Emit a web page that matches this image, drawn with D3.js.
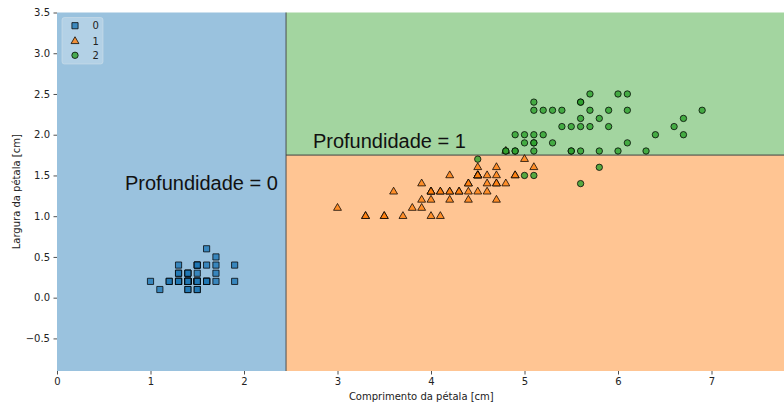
<!DOCTYPE html>
<html>
<head>
<meta charset="utf-8">
<script src="https://cdn.jsdelivr.net/npm/d3@7"></script>
<style>
  html, body { margin: 0; padding: 0; background: #fff; }
  svg { display: block; }
</style>
</head>
<body>
<svg id="chart" width="784" height="408"></svg>
<script>
// Iris: petal length / petal width by class
const petalLength0 = [1.4,1.4,1.3,1.5,1.4,1.7,1.4,1.5,1.4,1.5,1.5,1.6,1.4,1.1,1.2,1.5,1.3,1.4,1.7,1.5,1.7,1.5,1.0,1.7,1.9,1.6,1.6,1.5,1.4,1.6,1.6,1.5,1.5,1.4,1.5,1.2,1.3,1.4,1.3,1.5,1.3,1.3,1.3,1.6,1.9,1.4,1.6,1.4,1.5,1.4];
const petalWidth0  = [0.2,0.2,0.2,0.2,0.2,0.4,0.3,0.2,0.2,0.1,0.2,0.2,0.1,0.1,0.2,0.4,0.4,0.3,0.3,0.3,0.2,0.4,0.2,0.5,0.2,0.2,0.4,0.2,0.2,0.2,0.2,0.4,0.1,0.2,0.2,0.2,0.2,0.1,0.2,0.2,0.3,0.3,0.2,0.6,0.4,0.3,0.2,0.2,0.2,0.2];
const petalLength1 = [4.7,4.5,4.9,4.0,4.6,4.5,4.7,3.3,4.6,3.9,3.5,4.2,4.0,4.7,3.6,4.4,4.5,4.1,4.5,3.9,4.8,4.0,4.9,4.7,4.3,4.4,4.8,5.0,4.5,3.5,3.8,3.7,3.9,5.1,4.5,4.5,4.7,4.4,4.1,4.0,4.4,4.6,4.0,3.3,4.2,4.2,4.2,4.3,3.0,4.1];
const petalWidth1  = [1.4,1.5,1.5,1.3,1.5,1.3,1.6,1.0,1.3,1.4,1.0,1.5,1.0,1.4,1.3,1.4,1.5,1.0,1.5,1.1,1.8,1.3,1.5,1.2,1.3,1.4,1.4,1.7,1.5,1.0,1.1,1.0,1.2,1.6,1.5,1.6,1.5,1.3,1.3,1.3,1.2,1.4,1.2,1.0,1.3,1.2,1.3,1.3,1.1,1.3];
const petalLength2 = [6.0,5.1,5.9,5.6,5.8,6.6,4.5,6.3,5.8,6.1,5.1,5.3,5.5,5.0,5.1,5.3,5.5,6.7,6.9,5.0,5.7,4.9,6.7,4.9,5.7,6.0,4.8,4.9,5.6,5.8,6.1,6.4,5.6,5.1,5.6,6.1,5.6,5.5,4.8,5.4,5.6,5.1,5.1,5.9,5.7,5.2,5.0,5.2,5.4,5.1];
const petalWidth2  = [2.5,1.9,2.1,1.8,2.2,2.1,1.7,1.8,1.8,2.5,2.0,1.9,2.1,2.0,2.4,2.3,1.8,2.2,2.3,1.5,2.3,2.0,2.0,1.8,2.1,1.8,1.8,1.8,2.1,1.6,1.9,2.0,2.2,1.5,1.4,2.3,2.4,1.8,1.8,2.1,2.4,2.3,1.9,2.3,2.5,2.3,1.9,2.0,2.3,1.8];

const classLabels = ["0", "1", "2"];
const classColors = ["#1f77b4", "#ff7f0e", "#2ca02c"];
const regionColors = ["#9ac2de", "#ffc593", "#a3d5a0"];
const xDomain = [0, 7.9];
const yDomain = [-0.9, 3.5];
const xTicks = [0, 1, 2, 3, 4, 5, 6, 7];
const yTicks = [-0.5, 0.0, 0.5, 1.0, 1.5, 2.0, 2.5, 3.0, 3.5];
const splitLength = 2.45;   // depth 0 split
const splitWidth = 1.75;    // depth 1 split
const annotations = [
  { text: "Profundidade = 0", x: 1.545, y: 1.32 },
  { text: "Profundidade = 1", x: 3.555, y: 1.84 }
];
const xLabel = "Comprimento da pétala [cm]";
const yLabel = "Largura da pétala [cm]";

const svg = d3.select("#chart");
const mLeft = 57, mTop = 12.5, mBottom = 371;
const unitX = 93.5;
const x = d3.scaleLinear().domain(xDomain).range([mLeft, mLeft + (xDomain[1] - xDomain[0]) * unitX]);
const y = d3.scaleLinear().domain(yDomain).range([mBottom, mTop]);

// decision regions
const regions = [
  { x0: xDomain[0], x1: splitLength, y0: yDomain[0], y1: yDomain[1], c: 0 },
  { x0: splitLength, x1: xDomain[1], y0: yDomain[0], y1: splitWidth, c: 1 },
  { x0: splitLength, x1: xDomain[1], y0: splitWidth, y1: yDomain[1], c: 2 }
];
svg.append("g").selectAll("rect").data(regions).join("rect")
  .attr("x", d => x(d.x0)).attr("y", d => y(d.y1))
  .attr("width", d => x(d.x1) - x(d.x0)).attr("height", d => y(d.y0) - y(d.y1))
  .attr("fill", d => regionColors[d.c]);

// boundaries
const bnd = svg.append("g").attr("stroke", "#3a3a3a").attr("stroke-opacity", 0.55).attr("stroke-width", 1.6);
bnd.append("line").attr("x1", x(splitLength)).attr("x2", x(splitLength)).attr("y1", y(yDomain[0])).attr("y2", y(yDomain[1]));
bnd.append("line").attr("x1", x(splitLength)).attr("x2", x(xDomain[1])).attr("y1", y(splitWidth)).attr("y2", y(splitWidth));

// axes
const fontAxis = "'DejaVu Sans', sans-serif";
const xAxis = svg.append("g").attr("transform", `translate(0,${mBottom})`)
  .call(d3.axisBottom(x).tickValues(xTicks).tickFormat(d3.format("d")).tickSize(3.5).tickPadding(3.5));
const yAxis = svg.append("g").attr("transform", `translate(${mLeft},0)`)
  .call(d3.axisLeft(y).tickValues(yTicks).tickFormat(d3.format(".1f")).tickSize(3.5).tickPadding(3.5));
[xAxis, yAxis].forEach(a => {
  a.select(".domain").remove();
  a.selectAll(".tick line").attr("stroke", "#222").attr("stroke-width", 0.8);
  a.selectAll(".tick text").attr("fill", "#222").style("font-family", fontAxis).style("font-size", "10px");
});

svg.append("text").attr("x", (x(xDomain[0]) + x(xDomain[1])) / 2 - 5).attr("y", 400)
  .attr("text-anchor", "middle").style("font-family", fontAxis).style("font-size", "10px").attr("fill", "#222")
  .text(xLabel);
svg.append("text").attr("transform", `translate(20,${(mTop + mBottom) / 2}) rotate(-90)`)
  .attr("text-anchor", "middle").style("font-family", fontAxis).style("font-size", "10px").attr("fill", "#222")
  .text(yLabel);

// points
const symbols = [d3.symbolSquare, d3.symbolTriangle, d3.symbolCircle];
const symSizes = [38, 27, 32];
const classes = [
  petalLength0.map((v, i) => ({ px: v, py: petalWidth0[i], c: 0 })),
  petalLength1.map((v, i) => ({ px: v, py: petalWidth1[i], c: 1 })),
  petalLength2.map((v, i) => ({ px: v, py: petalWidth2[i], c: 2 }))
];
classes.forEach((pts, c) => {
  svg.append("g").selectAll("path").data(pts).join("path")
    .attr("d", d3.symbol().type(symbols[c]).size(symSizes[c]))
    .attr("transform", d => `translate(${x(d.px)},${y(d.py)})`)
    .attr("fill", classColors[c]).attr("fill-opacity", 0.8)
    .attr("stroke", "#000").attr("stroke-opacity", 0.75).attr("stroke-width", 1);
});

// annotations
svg.append("g").selectAll("text").data(annotations).join("text")
  .attr("x", d => x(d.x)).attr("y", d => y(d.y))
  .attr("text-anchor", "middle")
  .style("font-family", "'Liberation Sans', Arial, sans-serif").style("font-size", "20px").attr("fill", "#111")
  .text(d => d.text);

// legend
const lg = svg.append("g");
lg.append("rect").attr("x", 62).attr("y", 17.5).attr("width", 41).attr("height", 46.5).attr("rx", 2.5)
  .attr("fill", "#fff").attr("fill-opacity", 0.25).attr("stroke", "#d0dfea").attr("stroke-opacity", 0.6);
const lgRows = [25.7, 41.3, 55.3];
classLabels.forEach((lab, c) => {
  lg.append("path").attr("d", d3.symbol().type(symbols[c]).size(symSizes[c]))
    .attr("transform", `translate(75,${lgRows[c]})`)
    .attr("fill", classColors[c]).attr("fill-opacity", 0.8)
    .attr("stroke", "#000").attr("stroke-opacity", 0.75).attr("stroke-width", 1);
  lg.append("text").attr("x", 92.5).attr("y", lgRows[c] + 3.6)
    .style("font-family", fontAxis).style("font-size", "10px").attr("fill", "#222").text(lab);
});
</script>
</body>
</html>
